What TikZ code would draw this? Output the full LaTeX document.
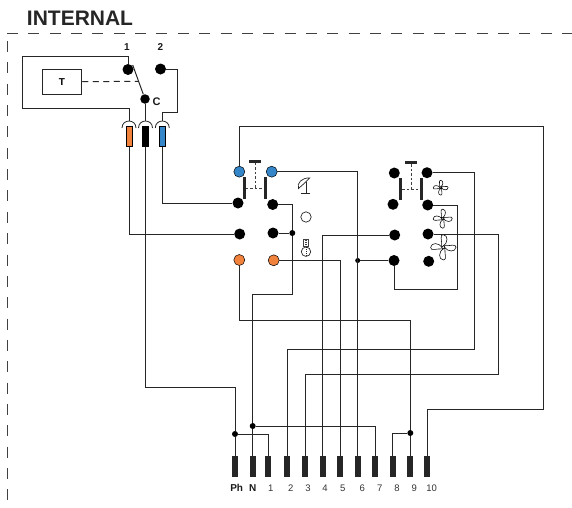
\documentclass[tikz,border=0pt]{standalone}
\usepackage{fontspec}
\setmainfont{Liberation Sans}
\definecolor{plugblue}{RGB}{52,134,200}
\definecolor{plugorange}{RGB}{240,130,60}

\begin{document}
\begin{tikzpicture}
    [x=1pt,y=-1pt,
     wire/.style={line width=1pt,draw=black!85},
     dot/.style={circle,fill=black,inner sep=0pt,minimum size=11pt},
     bluedot/.style={dot,fill=plugblue,draw=black,line width=0.5pt},
     orangedot/.style={dot,fill=plugorange,draw=black,line width=0.5pt},
     jdot/.style={circle,fill=black,inner sep=0pt,minimum size=6pt},
     termpin/.style={rectangle,fill=black!85,inner sep=0pt,minimum width=6pt,minimum height=21pt},
     plugbar/.style={rectangle,draw=black,line width=0.7pt,inner sep=0pt,minimum width=6pt,minimum height=20pt},
     contact/.style={rectangle,fill=black!85,inner sep=0pt,minimum width=2.8pt,minimum height=22pt},
     pushbar/.style={rectangle,fill=black!85,inner sep=0pt,minimum width=12pt,minimum height=2.8pt},
     link/.style={line width=0.7pt,dashed,dash pattern=on 2.5pt off 2pt,draw=black!75},
     frame/.style={line width=1pt,draw=black!75,dash pattern=on 11pt off 10.35pt},
     pinlabel/.style={inner sep=0pt,font=\fontsize{9.5}{10}\selectfont,text=black!80},
     boldlabel/.style={inner sep=0pt,font=\fontsize{10}{11}\selectfont\bfseries,text=black!90},
     fanicon/.pic={\foreach \a in {20,110,200,290}
        \draw[rotate=\a,line width=0.55pt,fill=white] (.08,0) .. controls (.2,.5) and (.8,.75) .. (1,.35) .. controls (1.1,.05) and (.55,.1) .. (.12,-.1) -- cycle;
        \draw[line width=0.55pt,fill=white] (0,0) circle[radius=.14];}]
    \useasboundingbox (0,0) rectangle (572,507);

    \node[inner sep=0pt,font=\fontsize{21}{22}\selectfont\bfseries,text=black!85] (title) at (80,18.7) {INTERNAL};
    \draw[frame] (7,33.3) -- (572,33.3);
    \draw[frame] (7.3,41) -- (7.3,501);

    \node[draw=black!85,line width=1pt,inner sep=0pt,minimum width=39.5pt,minimum height=25.3pt,font=\fontsize{10}{11}\selectfont\bfseries] (tbox) at (62,81.7) {T};
    \node[dot] (no1) at (128,69.5) {};
    \node[dot] (no2) at (160.5,69) {};
    \node[dot,minimum size=9.5pt] (com) at (145,99) {};
    \node[boldlabel] (lab1) at (127,47) {1};
    \node[boldlabel] (lab2) at (160.5,47) {2};
    \node[boldlabel,font=\fontsize{11}{12}\selectfont\bfseries] (labc) at (156.5,101.5) {C};

    \node[plugbar,fill=plugorange] (plugo) at (129,136.5) {};
    \node[plugbar,fill=black] (plugk) at (145.5,136.5) {};
    \node[plugbar,fill=plugblue] (plugb) at (162.3,136.5) {};
    \foreach \px/\pname in {129/o,145.5/k,162.3/b} {
      \draw[wire,line width=0.8pt] (\px-7,128) .. controls (\px-7,118.7) and (\px+7,118.7) .. (\px+7,128);
      \coordinate (top\pname) at (\px,121);
    }

    \coordinate (c1a) at (22.3,56.3);
    \coordinate (c1b) at (22.3,108);
    \coordinate (c1c) at (129,108);
    \coordinate (c2a) at (177.7,69);
    \coordinate (c2b) at (177.7,112.7);
    \coordinate (c2c) at (162.3,112.7);
    \coordinate (levtop) at (132.7,65);
    \coordinate (levdash) at (138.5,81.3);

    \draw[wire] (no1) -- (128,56.3) -- (c1a) -- (c1b) -- (c1c) -- (topo);
    \draw[wire] (no2) -- (c2a) -- (c2b) -- (c2c) -- (topb);
    \draw[wire] (com) -- (levtop);
    \draw[wire] (com) -- (145,121);
    \draw[wire,dashed,dash pattern=on 6pt off 4.5pt] (tbox.east) -- (levdash);

    \node[bluedot] (fl1) at (239.3,171.7) {};
    \node[bluedot] (fr1) at (271.7,171.7) {};
    \node[dot] (fl2) at (238,203) {};
    \node[dot] (fr2) at (272.7,204.5) {};
    \node[dot] (fl3) at (239.7,234) {};
    \node[dot] (fr3) at (273,233) {};
    \node[orangedot] (fl4) at (239.3,260) {};
    \node[orangedot] (fr4) at (273.7,260.3) {};
    \node[jdot] (jlamp) at (292.3,233) {};
    \node[pushbar] (push1) at (255,161.3) {};
    \node[contact] (ca1) at (244.3,188.3) {};
    \node[contact] (cb1) at (265.3,188.3) {};
    \draw[link] (push1) -- (255,187.7);
    \draw[link] (ca1) -- (cb1);

    \node[dot] (gl1) at (394.3,173) {};
    \node[dot] (gr1) at (427,172.7) {};
    \node[dot] (gl2) at (393,204.3) {};
    \node[dot] (gr2) at (427.7,205) {};
    \node[dot] (gl3) at (394.7,235) {};
    \node[dot] (gr3) at (428,234) {};
    \node[dot] (gl4) at (394,260.5) {};
    \node[dot] (gr4) at (428.7,261.3) {};
    \node[pushbar] (push2) at (411,162.7) {};
    \node[contact] (ca2) at (400.7,189.2) {};
    \node[contact] (cb2) at (421.7,189.2) {};
    \draw[link] (push2) -- (411,188.7);
    \draw[link] (ca2) -- (cb2);

    \foreach \n/\x in {ph/235,nn/252.7,t1/268.3,t2/287,t3/305,t4/322.7,t5/340,t6/357.7,t7/375.3,t8/392.7,t9/410.3,t10/427}
      \node[termpin] (\n) at (\x,466.5) {};
    \node[boldlabel] (labph) at (236.7,488.3) {Ph};
    \node[boldlabel] (labnn) at (252.7,488.3) {N};
    \foreach \n/\lx/\t in {t1/270.7/1,t2/290.7/2,t3/308/3,t4/325/4,t5/342.7/5,t6/362.3/6,t7/379.7/7,t8/397/8,t9/414.3/9,t10/431.7/10}
      \node[pinlabel] (lab\n) at (\lx,488.3) {\t};

    \node[jdot] (jph) at (235,434) {};
    \node[jdot] (jn) at (252.7,426) {};
    \node[jdot] (j9) at (410.3,433) {};
    \node[jdot,minimum size=5pt] (jfive) at (357.7,260.5) {};

    \coordinate (c10a) at (543.3,126);
    \coordinate (c10b) at (543.3,409);
    \coordinate (cph) at (235,387);
    \coordinate (cn) at (252.7,294);
    \coordinate (cna) at (292.3,294);
    \coordinate (cnb) at (292.3,204.5);
    \coordinate (c9) at (410.3,320.7);
    \coordinate (c2) at (474.3,349);
    \coordinate (c3) at (498.7,374);
    \coordinate (cg) at (457.3,289);

    \draw[wire] (plugo) |- (fl3);
    \draw[wire] (plugb) |- (fl2);
    \draw[wire] (plugk) |- (cph) -- (jph);
    \draw[wire] (jph) -- (ph);
    \draw[wire] (jph) -| (t1);
    \draw[wire] (fl1) |- (c10a) -- (c10b) -| (t10);
    \draw[wire] (fr1) -| (t6);
    \draw[wire] (fr2) -- (cnb) -- (jlamp);
    \draw[wire] (fr3) -- (jlamp) -- (cna) -- (cn) -- (jn);
    \draw[wire] (jn) -- (nn);
    \draw[wire] (jn) -| (t7);
    \draw[wire] (fl4) |- (c9) -- (j9);
    \draw[wire] (j9) -- (t9);
    \draw[wire] (j9) -| (t8);
    \draw[wire] (fr4) -| (t5);
    \draw[wire] (gl3) -| (t4);
    \draw[wire] (jfive) -- (gl4);
    \draw[wire] (gr1) -| (c2) -| (t2);
    \draw[wire] (gr3) -| (c3) -| (t3);
    \draw[wire] (gr2) -| (cg) -| (gl4);

    \draw[line width=0.7pt,draw=black!85] (298.5,188.5) .. controls (296.5,183) and (302,177.5) .. (309.7,178) -- (303,184.5) -- cycle;
    \draw[line width=0.7pt,draw=black!85] (306,181.5) -- (306,193.7);
    \draw[line width=0.7pt,draw=black!85] (301,193.7) -- (310,193.7);
    \draw[line width=0.7pt,draw=black!85] (306,217) circle[radius=5.2];
    \draw[line width=0.7pt,draw=black!85] (306,251.7) circle[radius=4.7];
    \draw[line width=0.8pt,draw=black!85,dash pattern=on 1pt off 1pt] (306,247) -- (306,256.5);
    \draw[line width=1.6pt,draw=black!75,dash pattern=on 1.2pt off 0.8pt] (306,239.5) -- (306,246.5);
    \draw[line width=0.5pt,draw=black!75] (303.5,239.5) rectangle (308.5,246.5);

    \pic[scale=7] at (440.7,187.7) {fanicon};
    \pic[scale=9] at (442.7,218.7) {fanicon};
    \pic[scale=12] at (443.3,247.3) {fanicon};
\end{tikzpicture}
\end{document}
